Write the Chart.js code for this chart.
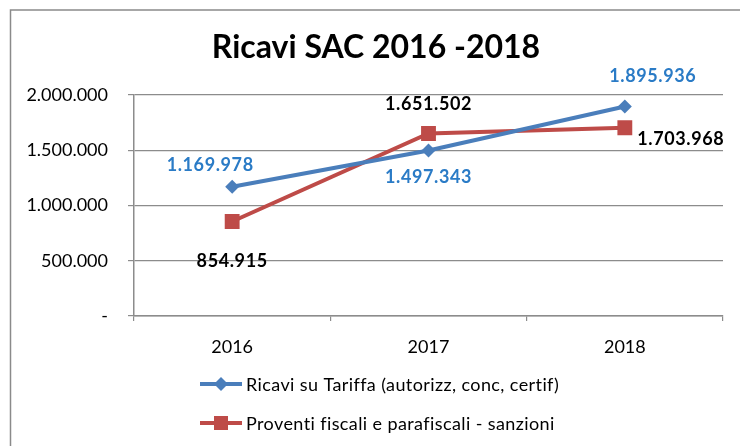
<!DOCTYPE html>
<html lang="it">
<head>
<meta charset="utf-8">
<title>Ricavi SAC 2016 -2018</title>
<script src="https://cdn.jsdelivr.net/npm/chart.js@4/dist/chart.umd.min.js"></script>
<style>
  html, body { margin: 0; padding: 0; background: #ffffff; }
  #wrap { width: 740px; height: 446px; }
</style>
</head>
<body>
<div id="wrap"><canvas id="chart" width="740" height="446"></canvas></div>
<script>
// Data
const years = ['2016', '2017', '2018'];
const ricaviTariffa = [1169978, 1497343, 1895936];
const proventiFiscali = [854915, 1651502, 1703968];
const yTicks = [0, 500000, 1000000, 1500000, 2000000];
const seriesNames = [
  'Ricavi su Tariffa (autorizz, conc, certif)',
  'Proventi fiscali e parafiscali - sanzioni'
];
const chartTitle = 'Ricavi SAC 2016 -2018';

// Styling
const BLUE = '#4a7ebb';
const RED = '#be4b48';
const LABEL_BLUE = '#2a7bc6';
const GRID = '#8c8c8c';
const FONT = 'Lato, "Open Sans", sans-serif';

// label placement around each point (dx, dy in pixels)
const labelOffsets = [
  [[-22, -22], [0, 27], [28, -30]],
  [[0, 40], [0, -29], [56, 11]]
];
const labelColors = [LABEL_BLUE, '#000000'];

function fmtIt(v) {
  if (v === 0) return '-';
  return String(Math.round(v)).replace(/\B(?=(\d{3})+(?!\d))/g, '.');
}

// white background, outer frame and the heading
const frame = {
  id: 'frame',
  beforeDraw(chart) {
    const ctx = chart.ctx;
    ctx.save();
    ctx.fillStyle = '#ffffff';
    ctx.fillRect(0, 0, chart.width, chart.height);
    ctx.strokeStyle = '#8a8a8a';
    ctx.lineWidth = 1.5;
    ctx.beginPath();
    ctx.moveTo(10.5, chart.height + 5);
    ctx.lineTo(10.5, 10);
    ctx.lineTo(chart.width + 5, 10);
    ctx.stroke();
    ctx.fillStyle = '#000000';
    ctx.font = 'bold 32px ' + FONT;
    ctx.textAlign = 'center';
    ctx.textBaseline = 'middle';
    ctx.fillText(chartTitle, 376, 48);
    ctx.restore();
  }
};

const valueLabels = {
  id: 'valueLabels',
  afterDatasetsDraw(chart) {
    const ctx = chart.ctx;
    ctx.save();
    ctx.font = 'bold 18px ' + FONT;
    ctx.letterSpacing = '0.6px';
    ctx.textAlign = 'center';
    ctx.textBaseline = 'middle';
    chart.data.datasets.forEach((ds, di) => {
      const meta = chart.getDatasetMeta(di);
      meta.data.forEach((pt, i) => {
        const [dx, dy] = labelOffsets[di][i];
        ctx.fillStyle = labelColors[di];
        ctx.fillText(fmtIt(ds.data[i]), pt.x + dx, pt.y + dy);
      });
    });
    ctx.restore();
  }
};

const stackedLegend = {
  id: 'stackedLegend',
  afterDraw(chart) {
    const ctx = chart.ctx;
    const rows = [384, 423];
    ctx.save();
    chart.data.datasets.forEach((ds, di) => {
      const y = rows[di];
      ctx.strokeStyle = ds.borderColor;
      ctx.lineWidth = 4;
      ctx.beginPath();
      ctx.moveTo(200, y);
      ctx.lineTo(242, y);
      ctx.stroke();
      ctx.fillStyle = ds.backgroundColor;
      ctx.beginPath();
      if (ds.pointStyle === 'rectRot') {
        const r = 7;
        ctx.moveTo(221, y - r);
        ctx.lineTo(221 + r, y);
        ctx.lineTo(221, y + r);
        ctx.lineTo(221 - r, y);
        ctx.closePath();
      } else {
        ctx.rect(221 - 7, y - 7, 14, 14);
      }
      ctx.fill();
      ctx.fillStyle = '#000000';
      ctx.font = '18px ' + FONT;
      ctx.letterSpacing = '0.4px';
      ctx.textAlign = 'left';
      ctx.textBaseline = 'middle';
      ctx.fillText(ds.label, 246, y + 1);
    });
    ctx.restore();
  }
};

new Chart(document.getElementById('chart'), {
  type: 'line',
  data: {
    labels: years,
    datasets: [
      {
        label: seriesNames[0],
        data: ricaviTariffa,
        borderColor: BLUE,
        backgroundColor: BLUE,
        borderWidth: 4,
        pointStyle: 'rectRot',
        pointRadius: 7,
        pointHoverRadius: 7,
        pointBorderWidth: 0,
        pointBackgroundColor: BLUE,
        tension: 0
      },
      {
        label: seriesNames[1],
        data: proventiFiscali,
        borderColor: RED,
        backgroundColor: RED,
        borderWidth: 4,
        pointStyle: 'rect',
        pointRadius: 10.5,
        pointHoverRadius: 10.5,
        pointBorderWidth: 0,
        pointBackgroundColor: RED,
        tension: 0
      }
    ]
  },
  options: {
    responsive: false,
    animation: false,
    events: [],
    layout: { padding: { left: 0, right: 17, top: 95, bottom: 0 } },
    plugins: {
      legend: { display: false },
      tooltip: { enabled: false },
      title: { display: false }
    },
    scales: {
      x: {
        offset: true,
        grid: {
          offset: true,
          drawOnChartArea: false,
          drawTicks: true,
          tickLength: 5,
          color: GRID,
          lineWidth: 1.2
        },
        border: { color: GRID, width: 1.5 },
        ticks: {
          color: '#000000',
          font: { family: FONT, size: 18 },
          padding: 15,
          maxRotation: 0
        },
        afterFit(scale) { scale.height = 130; }
      },
      y: {
        min: 0,
        max: 2000000,
        afterBuildTicks(scale) {
          scale.ticks = yTicks.map(v => ({ value: v }));
        },
        grid: {
          color: GRID,
          lineWidth: 1.2,
          drawTicks: true,
          tickLength: 6
        },
        border: { color: GRID, width: 1.5 },
        ticks: {
          color: '#000000',
          font: { family: FONT, size: 18 },
          padding: 20,
          callback: v => fmtIt(v)
        },
        afterFit(scale) { scale.width = 134; }
      }
    }
  },
  plugins: [frame, valueLabels, stackedLegend]
});
</script>
</body>
</html>
